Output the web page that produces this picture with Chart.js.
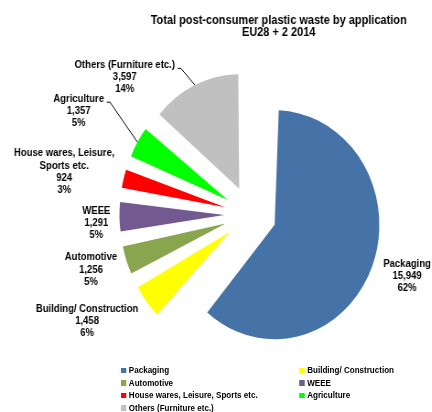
<!DOCTYPE html>
<html>
<head>
<meta charset="utf-8">
<script src="https://cdn.jsdelivr.net/npm/chart.js@4.4.1/dist/chart.umd.min.js"></script>
<style>
  html, body { margin: 0; padding: 0; background: #fff; overflow: hidden; }
  /* chart is laid out 472 wide, then narrowed to the 432px frame */
  #frame {
    position: relative; width: 472px; height: 412px;
    transform: scaleX(0.915); transform-origin: 0 0;
  }
  #chart { position: absolute; left: 0; top: 0; }
  #legend {
    position: absolute; left: 132px; top: 364px;
    display: grid; grid-template-columns: 195px auto; grid-auto-rows: 12.5px;
    font: bold 8.8px "Liberation Sans", Arial, sans-serif; color: #000;
  }
  .item { display: flex; align-items: center; white-space: nowrap; }
  .swatch { width: 5.5px; height: 5.5px; margin-right: 3.3px; flex: none; }
</style>
</head>
<body>
<div id="frame">
  <canvas id="chart" width="472" height="412"></canvas>
  <div id="legend"></div>
</div>
<script>
const titleLines = ['Total post-consumer plastic waste by application', 'EU28 + 2 2014'];
const categories = ['Packaging', 'Building/ Construction', 'Automotive', 'WEEE',
  'House wares, Leisure, Sports etc.', 'Agriculture', 'Others (Furniture etc.)'];
// label text per slice (house wares wraps onto two lines)
const labelNames = [['Packaging'], ['Building/ Construction'], ['Automotive'], ['WEEE'],
  ['House wares, Leisure,', 'Sports etc.'], ['Agriculture'], ['Others (Furniture etc.)']];
const tonnes = [15949, 1458, 1256, 1291, 924, 1357, 3597];   // kt
const shares = [62, 6, 5, 5, 3, 5, 14];                      // %
const sliceColors = ['#4572A7', '#FFFF00', '#89A54E', '#72598F', '#FF0000', '#00FF00', '#C0C0C0'];

const RADIUS = 114.5;     // drawn slice radius
const EXPLODE = 28.5;     // how far each slice is pulled out
const LABEL_GAP = 10;
const LINE_H = 12.3;
const FONT = '"Liberation Sans", Arial, sans-serif';
// hand tweaks for the label blocks, [dx, dy]
const labelNudge = [[2, -3], [1, 1.4], [0, -3], [0, 0], [0, -7.6], [-26.5, -27], [-11.7, 4.3]];
const leaderLines = [false, false, false, false, false, true, true];

// Chart.js grows an offset arc by offset*(1 - sin(angle)); undo that so all wedges share one radius
const evenRadius = {
  id: 'evenRadius',
  afterDatasetUpdate(chart) {
    chart.getDatasetMeta(0).data.forEach(arc => {
      const fix = 1 - Math.sin(Math.min(Math.PI, arc.circumference));
      arc.outerRadius = RADIUS - EXPLODE * fix;
    });
  }
};

const sliceLabels = {
  id: 'sliceLabels',
  afterDraw(chart) {
    const ctx = chart.ctx;
    ctx.save();
    ctx.fillStyle = '#000';
    ctx.strokeStyle = '#000';
    ctx.lineWidth = 1;
    ctx.textAlign = 'center';

    ctx.font = 'bold 12px ' + FONT;
    ctx.textBaseline = 'alphabetic';
    ctx.fillText(titleLines[0], 304.6, 23.7);
    ctx.fillText(titleLines[1], 304.6, 36);

    ctx.font = 'bold 10.4px ' + FONT;
    ctx.textBaseline = 'middle';
    chart.getDatasetMeta(0).data.forEach((arc, i) => {
      const mid = (arc.startAngle + arc.endAngle) / 2;
      const cos = Math.cos(mid), sin = Math.sin(mid);
      const px = arc.x + cos * (EXPLODE + RADIUS);
      const py = arc.y + sin * (EXPLODE + RADIUS);
      const lines = [...labelNames[i], tonnes[i].toLocaleString('en-US'), shares[i] + '%'];
      const width = Math.max(...lines.map(l => ctx.measureText(l).width));
      let cx = cos >= 0 ? px + LABEL_GAP + width / 2 : px - LABEL_GAP - width / 2;
      let cy = py + 6 + 20 * sin;
      cx += labelNudge[i][0];
      cy += labelNudge[i][1];
      const top = cy - (lines.length - 1) * LINE_H / 2;
      lines.forEach((l, k) => ctx.fillText(l, cx, top + k * LINE_H));

      if (leaderLines[i]) {
        const sx = cx + ctx.measureText(lines[0]).width / 2 + 3;
        const sy = top + 3.5;
        ctx.beginPath();
        ctx.moveTo(sx, sy);
        ctx.lineTo(sx + 3.5, sy);
        ctx.lineTo(px, py);
        ctx.stroke();
      }
    });
    ctx.restore();
  }
};

new Chart(document.getElementById('chart'), {
  type: 'pie',
  data: {
    labels: categories,
    datasets: [{
      data: tonnes,
      backgroundColor: sliceColors,
      borderWidth: 0,
      offset: EXPLODE * 4,
      hoverOffset: EXPLODE * 4
    }]
  },
  options: {
    responsive: false,
    animation: false,
    events: [],
    radius: RADIUS - EXPLODE,
    layout: { padding: { left: 75, top: 17, right: 0, bottom: 0 } },
    plugins: {
      legend: { display: false },
      title: { display: false },
      tooltip: { enabled: false }
    }
  },
  plugins: [evenRadius, sliceLabels]
});

document.getElementById('legend').innerHTML = categories.map((c, i) =>
  `<div class="item"><span class="swatch" style="background:${sliceColors[i]}"></span>${c}</div>`
).join('');
</script>
</body>
</html>
